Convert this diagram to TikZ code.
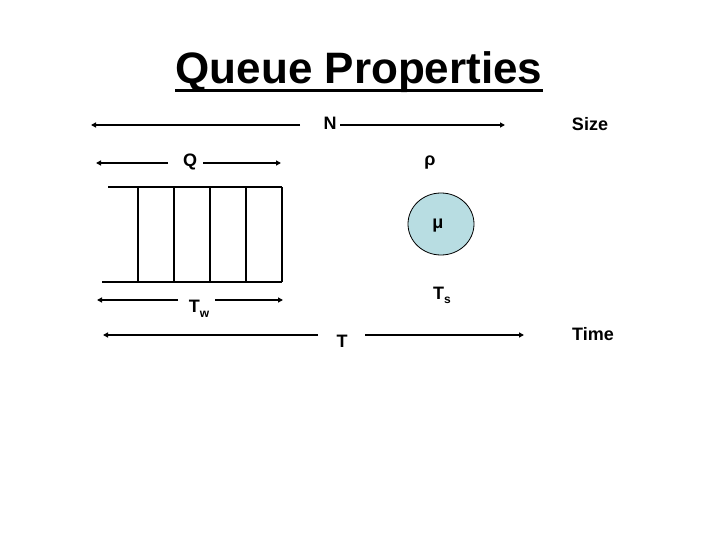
\documentclass[tikz,border=0pt]{standalone}
\usepackage{fontspec}
\setmainfont{Liberation Sans}
\usetikzlibrary{arrows.meta,shapes.geometric}
\definecolor{servfill}{RGB}{184,221,226}
\begin{document}
\begin{tikzpicture}[x=1pt,y=-1pt,
  lbl/.style={font=\fontsize{18}{20}\selectfont\bfseries, inner sep=0pt, anchor=base},
  arr/.style={line width=1.5pt,-{Triangle[length=5pt,width=5pt]}},
  qline/.style={line width=1.2pt}]
\useasboundingbox (0,0) rectangle (720,540);
% title
\node[font=\fontsize{44}{48}\selectfont\bfseries, inner sep=0pt, anchor=base] (title) at (359,84) {Queue Properties};
\draw[line width=3pt] ([yshift=-7pt]title.base west) -- ([yshift=-7pt]title.base east);
% N row
\node[lbl] (N) at (330,130) {N};
\node[lbl] (size) at (590,131) {Size};
\coordinate (nLi) at (300,125);
\coordinate (nL) at (91,125);
\coordinate (nRi) at (340,125);
\coordinate (nR) at (505,125);
\draw[arr] (nLi) -- (nL);
\draw[arr] (nRi) -- (nR);
% Q row
\node[lbl] (Q) at (190,167) {Q};
\node[lbl] (rho) at (430,166) {ρ};
\coordinate (qLi) at (168,163);
\coordinate (qL) at (96,163);
\coordinate (qRi) at (203,163);
\coordinate (qR) at (281,163);
\draw[arr] (qLi) -- (qL);
\draw[arr] (qRi) -- (qR);
% queue
\draw[qline] (108,187) -- (282,187);
\draw[qline] (102,282) -- (282,282);
\foreach \x in {138,174,210,246,282}{\draw[qline] (\x,187) -- (\x,282);}
% server
\node[draw, line width=0.8pt, fill=servfill, ellipse, minimum width=66pt, minimum height=62pt, inner sep=0pt] (server) at (441,224) {};
\node[lbl] (mu) at (438,229) {μ};
% Tw row
\node[lbl] (Tw) at (199,312) {T\raisebox{-5pt}{\fontsize{12}{12}\selectfont w}};
\coordinate (wLi) at (178,300);
\coordinate (wL) at (97,300);
\coordinate (wRi) at (215,300);
\coordinate (wR) at (283,300);
\draw[arr] (wLi) -- (wL);
\draw[arr] (wRi) -- (wR);
\node[lbl] (Ts) at (442,299) {T\raisebox{-4pt}{\fontsize{12}{12}\selectfont s}};
% T row
\node[lbl] (T) at (342,347) {T};
\node[lbl] (time) at (593,340) {Time};
\coordinate (tLi) at (318,335);
\coordinate (tL) at (103,335);
\coordinate (tRi) at (365,335);
\coordinate (tR) at (524,335);
\draw[arr] (tLi) -- (tL);
\draw[arr] (tRi) -- (tR);
\end{tikzpicture}
\end{document}
